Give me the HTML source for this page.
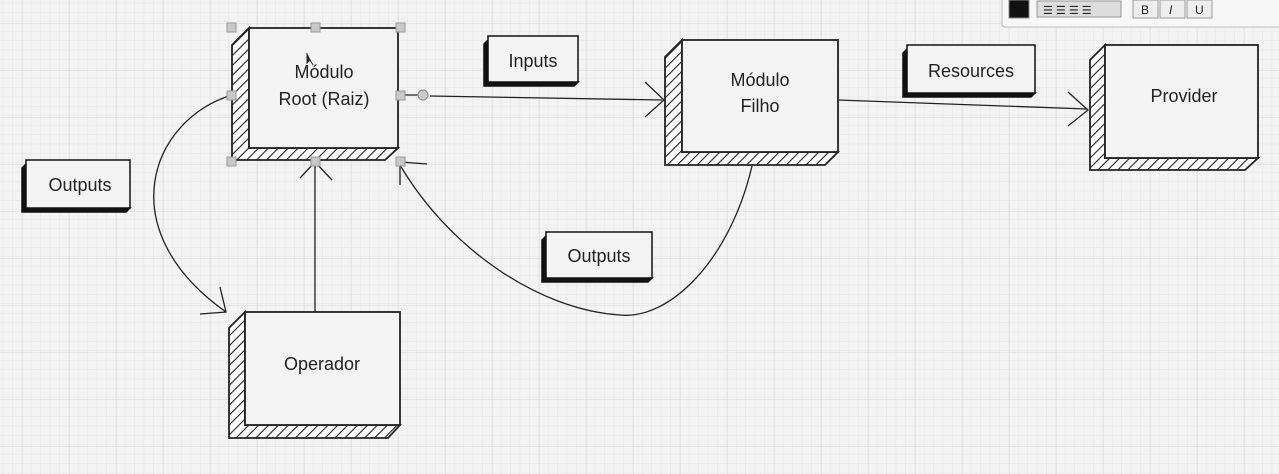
<!DOCTYPE html>
<html><head><meta charset="utf-8"><style>
html,body{margin:0;padding:0;background:#f3f3f3;}
svg{display:block;}
text{font-family:"Liberation Sans",sans-serif;fill:#222;}
</style></head><body>
<svg width="1279" height="474" viewBox="0 0 1279 474" xmlns="http://www.w3.org/2000/svg">
<defs>
<pattern id="minor" width="9.4" height="9.4" patternUnits="userSpaceOnUse" x="22" y="22">
<path d="M9.4 0V9.4H0" fill="none" stroke="#e6e6e6" stroke-width="1"/></pattern>
<pattern id="major" width="47" height="47" patternUnits="userSpaceOnUse" x="23" y="24">
<path d="M47 0V47H0" fill="none" stroke="#dadada" stroke-width="1"/></pattern>
<pattern id="hatch" width="7" height="7" patternUnits="userSpaceOnUse" patternTransform="rotate(45)">
<rect width="7" height="7" fill="#fff"/><line x1="0" y1="0" x2="0" y2="7" stroke="#222" stroke-width="2.2"/></pattern>
</defs>
<rect width="1279" height="474" fill="#f3f3f3"/>
<rect width="1279" height="474" fill="url(#minor)"/>
<rect width="1279" height="474" fill="url(#major)"/>

<!-- toolbar -->
<rect x="1002" y="-5" width="290" height="32" rx="3" fill="#f7f7f7" stroke="#bbb"/>
<rect x="1009" y="0" width="20" height="18" fill="#111" stroke="#888"/>
<rect x="1037" y="1" width="84" height="16" fill="#ddd" stroke="#999"/>
<text x="1043" y="14" font-size="11" fill="#555">☰ ☰ ☰ ☰</text>
<rect x="1133" y="0" width="25" height="18" fill="#eee" stroke="#999"/><text x="1141" y="14" font-size="12">B</text>
<rect x="1160" y="0" width="25" height="18" fill="#eee" stroke="#999"/><text x="1169" y="14" font-size="12" font-style="italic">I</text>
<rect x="1187" y="0" width="25" height="18" fill="#eee" stroke="#999"/><text x="1195" y="14" font-size="12">U</text>

<!-- connectors -->
<g fill="none" stroke="#222" stroke-width="1.3">
<path d="M400 95 H425"/>
<path d="M430 96 L662 100"/><path d="M645 82 L664 100 L645 117"/>
<path d="M838 100 L1087 109"/><path d="M1068 92 L1088 110 L1068 126"/>
<path d="M315 312 V162"/><path d="M300 178 L315 162 L332 180"/>
<path d="M232 95 C150 120 110 230 226 312"/><path d="M200 314 L226 312 L220 287"/>
<path d="M752 166 C730 260 670 320 620 315 C540 310 450 250 400 165"/><path d="M400 185 L400 162 L427 164"/>
</g>
<circle cx="423" cy="95" r="5" fill="#ccc" stroke="#888"/>

<!-- node helper: hatched shadow left & bottom -->
<g stroke="#222" stroke-width="1.8">
<path d="M249 28 L232 45 L232 160 L385 160 L398 148 L249 148 Z" fill="url(#hatch)"/>
<rect x="249" y="28" width="149" height="120" fill="#f3f3f3"/>
<path d="M682 40 L665 57 L665 165 L825 165 L838 152 L682 152 Z" fill="url(#hatch)"/>
<rect x="682" y="40" width="156" height="112" fill="#f3f3f3"/>
<path d="M1105 45 L1090 60 L1090 170 L1245 170 L1258 158 L1105 158 Z" fill="url(#hatch)"/>
<rect x="1105" y="45" width="153" height="113" fill="#f3f3f3"/>
<path d="M245 312 L229 328 L229 438 L388 438 L400 425 L245 425 Z" fill="url(#hatch)"/>
<rect x="245" y="312" width="155" height="113" fill="#f3f3f3"/>
</g>

<!-- selection handles -->
<g fill="#c8c8c8" stroke="#999">
<rect x="227" y="23" width="9" height="9"/><rect x="311" y="23" width="9" height="9"/><rect x="396" y="23" width="9" height="9"/>
<rect x="227" y="91" width="9" height="9"/><rect x="396" y="91" width="9" height="9"/>
<rect x="227" y="157" width="9" height="9"/><rect x="311" y="157" width="9" height="9"/><rect x="396" y="157" width="9" height="9"/>
</g>

<g font-size="18" text-anchor="middle">
<text x="324" y="78">Módulo</text><text x="324" y="105">Root (Raiz)</text>
<text x="760" y="86">Módulo</text><text x="760" y="112">Filho</text>
<text x="1184" y="102">Provider</text>
<text x="322" y="370">Operador</text>
</g>

<!-- labels with shadow left/bottom -->
<g stroke="#111" stroke-width="1.5">
<path d="M488 40 L484 44 L484 86 L574 86 L578 82 L488 82Z" fill="#111"/>
<rect x="488" y="36" width="90" height="46" fill="#f3f3f3"/>
<path d="M907 49 L903 53 L903 97 L1031 97 L1035 93 L907 93Z" fill="#111"/>
<rect x="907" y="45" width="128" height="48" fill="#f3f3f3"/>
<path d="M26 164 L22 168 L22 212 L126 212 L130 208 L26 208Z" fill="#111"/>
<rect x="26" y="160" width="104" height="48" fill="#f3f3f3"/>
<path d="M546 236 L542 240 L542 282 L648 282 L652 278 L546 278Z" fill="#111"/>
<rect x="546" y="232" width="106" height="46" fill="#f3f3f3"/>
</g>
<g font-size="18" text-anchor="middle">
<text x="533" y="67">Inputs</text>
<text x="971" y="77">Resources</text>
<text x="80" y="191">Outputs</text>
<text x="599" y="262">Outputs</text>
</g>
<path d="M307 53 L307 63 L310 60 L313 65" fill="#222" stroke="#222" stroke-width="1"/>
</svg>
</body></html>
